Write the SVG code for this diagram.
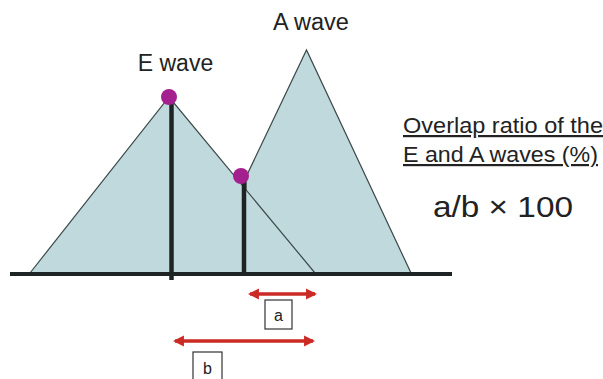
<svg xmlns="http://www.w3.org/2000/svg" width="603" height="379" viewBox="0 0 603 379">
<defs>
<style>
.tri{fill:#bfd9dd;stroke:#3c4848;stroke-width:1.2}
.post{stroke:#1e2424;stroke-width:4.5}
.dot{fill:#a5208f}
.txt{font-family:"Liberation Sans",Arial,sans-serif;fill:#222}
.dim{stroke:#cc2a25;stroke-width:3.5;fill:none}
.box{fill:#fff;stroke:#333;stroke-width:1.2}
</style>
<marker id="ah" viewBox="0 0 10 10" refX="8" refY="5" markerWidth="3.2" markerHeight="3.2" orient="auto-start-reverse" markerUnits="strokeWidth">
<path d="M0,0 L10,5 L0,10 z" fill="#cc2a25"/>
</marker>
</defs>
<rect width="603" height="379" fill="#fff"/>
<g id="a-wave">
<polygon class="tri" points="246,177 306.5,50 411,273 246,273"/>
<text class="txt" x="311" y="30" font-size="23.5" text-anchor="middle">A wave</text>
</g>
<g id="e-wave">
<polygon class="tri" points="30,273 169,97 315,273"/>
<text class="txt" x="175.5" y="70.5" font-size="23" text-anchor="middle">E wave</text>
</g>
<g id="baseline">
<line x1="10" y1="274" x2="452" y2="274" stroke="#1e2424" stroke-width="4"/>
</g>
<g id="e-peak">
<line class="post" x1="171.5" y1="100" x2="171.5" y2="280"/>
<circle class="dot" cx="169" cy="97" r="8"/>
</g>
<g id="a-onset">
<line class="post" x1="244" y1="178" x2="244" y2="274"/>
<circle class="dot" cx="241" cy="176" r="8"/>
</g>
<g id="connectors">
<line class="dim" x1="250" y1="294" x2="315" y2="294" marker-start="url(#ah)" marker-end="url(#ah)"/>
<line class="dim" x1="175" y1="341" x2="313" y2="341" marker-start="url(#ah)" marker-end="url(#ah)"/>
</g>
<g id="label-a">
<rect class="box" x="265" y="300" width="27" height="29"/>
<text class="txt" x="278.5" y="321" font-size="16" text-anchor="middle">a</text>
</g>
<g id="label-b">
<rect class="box" x="193" y="352" width="29" height="30"/>
<text class="txt" x="207.5" y="374" font-size="16" text-anchor="middle">b</text>
</g>
<g id="formula">
<text class="txt" x="403" y="133" font-size="22" textLength="200" lengthAdjust="spacingAndGlyphs" text-decoration="underline">Overlap ratio of the</text>
<text class="txt" x="403" y="162" font-size="22" textLength="195" lengthAdjust="spacingAndGlyphs" text-decoration="underline">E and A waves (%)</text>
<text class="txt" x="433" y="217" font-size="29" textLength="140" lengthAdjust="spacingAndGlyphs">a/b × 100</text>
</g>
</svg>
